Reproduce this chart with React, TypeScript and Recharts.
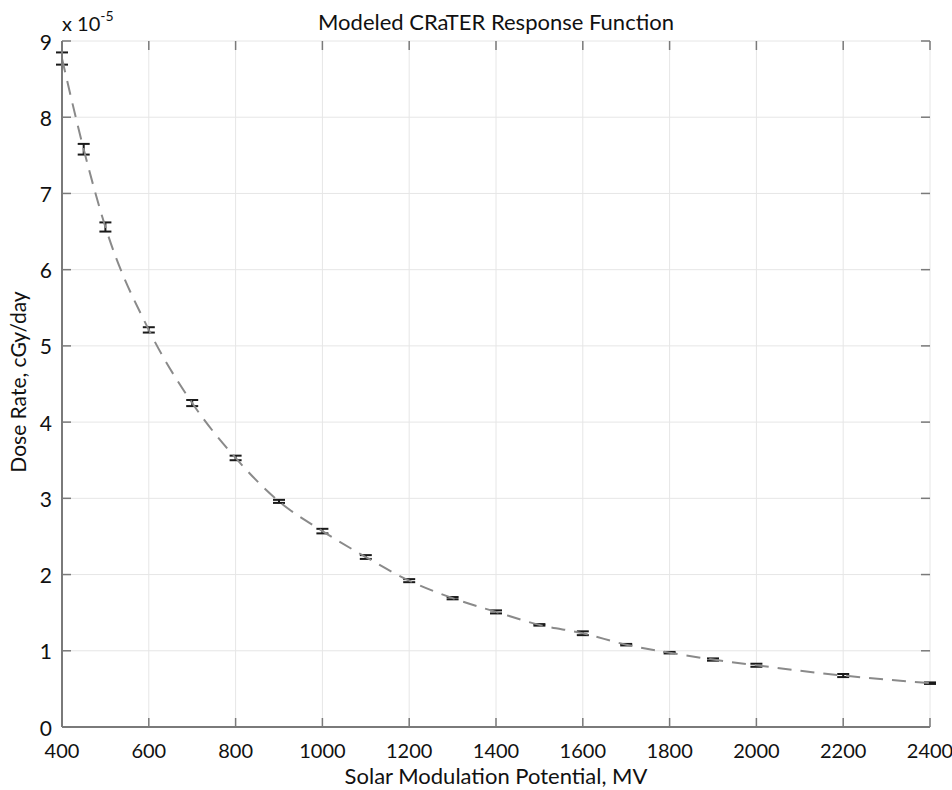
import { ComposedChart, Line, ErrorBar, XAxis, YAxis, CartesianGrid } from 'recharts'

const modulation = [400, 450, 500, 600, 700, 800, 900, 1000, 1100, 1200, 1300, 1400, 1500, 1600, 1700, 1800, 1900, 2000, 2200, 2400]
const doseRate = [8.77, 7.58, 6.56, 5.21, 4.25, 3.53, 2.96, 2.57, 2.23, 1.92, 1.69, 1.51, 1.34, 1.23, 1.08, 0.975, 0.885, 0.81, 0.675, 0.575]
const doseError = [0.08, 0.07, 0.06, 0.035, 0.04, 0.03, 0.02, 0.03, 0.025, 0.02, 0.015, 0.02, 0.01, 0.025, 0.01, 0.01, 0.015, 0.02, 0.02, 0.01]
const xTicks = [400, 600, 800, 1000, 1200, 1400, 1600, 1800, 2000, 2200, 2400]
const yTicks = [0, 1, 2, 3, 4, 5, 6, 7, 8, 9]

const data = modulation.map((x, i) => ({ x, y: doseRate[i], err: doseError[i] }))

// plot box, in pixels
const LEFT = 62
const RIGHT = 930
const TOP = 41
const BOTTOM = 727
const FONT = 'Lato, sans-serif'
const AXIS = '#7a7a7a'

const XTick = (props: any) => {
  const { x, payload } = props
  return (
    <g>
      <line x1={x} x2={x} y1={BOTTOM} y2={BOTTOM - 9} stroke={AXIS} strokeWidth={1.5} />
      <line x1={x} x2={x} y1={TOP} y2={TOP + 9} stroke={AXIS} strokeWidth={1.5} />
      <text x={x} y={750} textAnchor="middle" dominantBaseline="central" fontFamily={FONT} fontSize={20} fill="#111">
        {payload.value}
      </text>
    </g>
  )
}

const YTick = (props: any) => {
  const { y, payload } = props
  return (
    <g>
      <line x1={LEFT} x2={LEFT + 9} y1={y} y2={y} stroke={AXIS} strokeWidth={1.5} />
      <line x1={RIGHT} x2={RIGHT - 9} y1={y} y2={y} stroke={AXIS} strokeWidth={1.5} />
      <text x={52} y={y} textAnchor="end" dominantBaseline="central" fontFamily={FONT} fontSize={21} fill="#111">
        {payload.value}
      </text>
    </g>
  )
}

export default function App() {
  return (
    <div style={{ position: 'absolute', left: 0, top: 0, width: 952, height: 790, background: '#fff' }}>
      <ComposedChart
        width={952}
        height={790}
        data={data}
        margin={{ top: TOP, right: 952 - RIGHT, left: 0, bottom: 0 }}
      >
        <CartesianGrid stroke="#e6e6e6" strokeWidth={1} />
        <XAxis
          dataKey="x"
          type="number"
          domain={[400, 2400]}
          ticks={xTicks}
          height={790 - BOTTOM}
          tick={<XTick />}
          tickLine={false}
          axisLine={{ stroke: AXIS, strokeWidth: 2 }}
          label={{
            content: () => (
              <text x={(LEFT + RIGHT) / 2} y={775} textAnchor="middle" dominantBaseline="central" fontFamily={FONT} fontSize={22} fill="#111">
                Solar Modulation Potential, MV
              </text>
            )
          }}
        />
        <XAxis
          xAxisId="top"
          orientation="top"
          type="number"
          domain={[400, 2400]}
          height={0}
          tick={false}
          tickLine={false}
          axisLine={{ stroke: AXIS, strokeWidth: 2 }}
        />
        <YAxis
          type="number"
          domain={[0, 9]}
          ticks={yTicks}
          width={LEFT}
          tick={<YTick />}
          tickLine={false}
          axisLine={{ stroke: AXIS, strokeWidth: 2 }}
          label={{
            content: () => (
              <g fontFamily={FONT} fill="#111">
                <text x={17} y={382} transform="rotate(-90 17 382)" textAnchor="middle" dominantBaseline="central" fontSize={21}>
                  Dose Rate, cGy/day
                </text>
                <text x={(LEFT + RIGHT) / 2} y={21} textAnchor="middle" dominantBaseline="central" fontSize={22}>
                  Modeled CRaTER Response Function
                </text>
                <text x={LEFT} y={31} fontSize={20}>
                  x 10
                  <tspan dy={-10} fontSize={14}>-5</tspan>
                </text>
              </g>
            )
          }}
        />
        <YAxis
          yAxisId="right"
          orientation="right"
          type="number"
          domain={[0, 9]}
          width={0}
          tick={false}
          tickLine={false}
          axisLine={{ stroke: AXIS, strokeWidth: 2 }}
        />
        <Line
          dataKey="y"
          type="monotone"
          stroke="#8a8a8a"
          strokeWidth={2}
          strokeDasharray="14 9"
          dot={false}
          activeDot={false}
          isAnimationActive={false}
        >
          <ErrorBar dataKey="err" direction="y" width={6} stroke="#1a1a1a" strokeWidth={2} isAnimationActive={false} />
        </Line>
      </ComposedChart>
    </div>
  )
}
